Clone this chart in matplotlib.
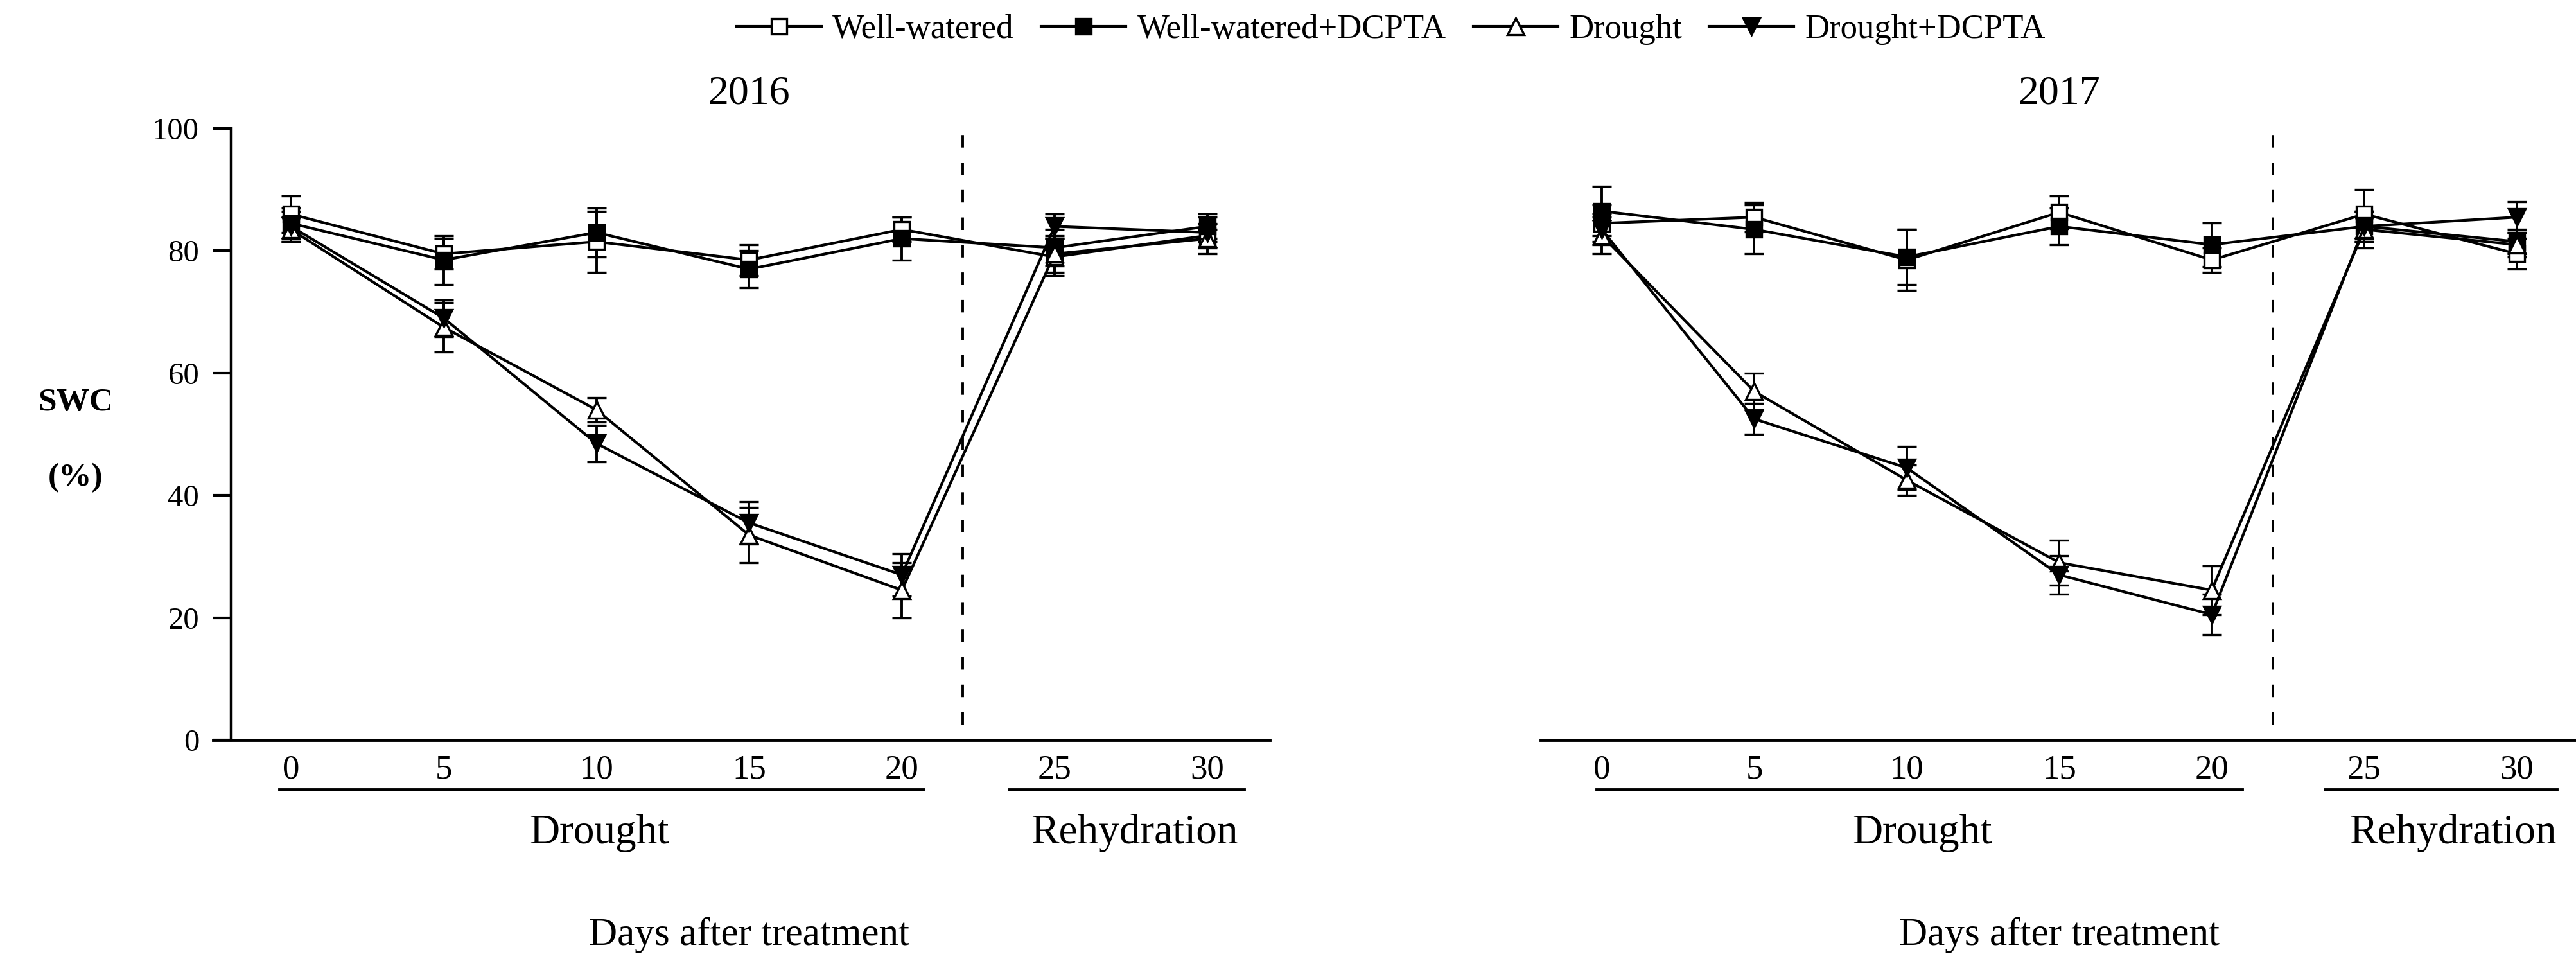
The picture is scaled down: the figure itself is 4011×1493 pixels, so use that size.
import matplotlib
matplotlib.use("Agg")
import matplotlib.pyplot as plt
from matplotlib.lines import Line2D
from matplotlib.transforms import blended_transform_factory

plt.rcParams['font.family'] = ['Liberation Serif', 'DejaVu Serif']

# Sampling days (days after treatment)
days = [0, 5, 10, 15, 20, 25, 30]

# Soil water content (%), 2016 season
ww_2016 = [86.0, 79.5, 81.5, 78.5, 83.5, 79.0, 82.5]
ww_2016_se = [3.0, 2.5, 5.0, 2.5, 2.0, 3.0, 3.0]
wwd_2016 = [84.5, 78.5, 83.0, 77.0, 82.0, 80.5, 84.0]
wwd_2016_se = [2.5, 4.0, 4.0, 3.0, 3.5, 3.0, 2.0]
d_2016 = [83.5, 67.5, 54.0, 33.5, 24.5, 79.5, 82.0]
d_2016_se = [2.0, 4.0, 2.0, 4.5, 4.5, 3.0, 1.5]
dd_2016 = [84.0, 69.0, 48.5, 35.5, 27.0, 84.0, 83.0]
dd_2016_se = [2.5, 3.0, 3.0, 3.5, 3.5, 2.0, 1.5]

# Soil water content (%), 2017 season
ww_2017 = [84.5, 85.5, 78.5, 86.3, 78.5, 86.0, 79.5]
ww_2017_se = [3.0, 2.4, 5.0, 2.7, 2.0, 4.0, 2.5]
wwd_2017 = [86.5, 83.5, 79.0, 84.0, 81.0, 84.0, 81.5]
wwd_2017_se = [4.0, 4.0, 4.5, 3.0, 3.6, 2.5, 2.0]
d_2017 = [82.5, 57.0, 42.5, 29.0, 24.5, 83.5, 81.0]
d_2017_se = [3.0, 3.0, 2.5, 3.7, 4.0, 3.0, 2.0]
dd_2017 = [83.5, 52.5, 44.5, 27.0, 20.5, 84.0, 85.5]
dd_2017_se = [2.5, 2.5, 3.5, 3.2, 3.3, 2.5, 2.5]

labels = ['Well-watered', 'Well-watered+DCPTA', 'Drought', 'Drought+DCPTA']
years = ['2016', '2017']
phase_labels = ['Drought', 'Rehydration']
y_ticks = [0, 20, 40, 60, 80, 100]

styles = [
    dict(marker='s', ms=17, mfc='white'),
    dict(marker='s', ms=17, mfc='black'),
    dict(marker='^', ms=19, mfc='white'),
    dict(marker='v', ms=19, mfc='black'),
]

fig = plt.figure(figsize=(40.11, 14.93), dpi=100)
ax1 = fig.add_axes([0.0828, 0.2284, 0.4101, 0.6376])
ax2 = fig.add_axes([0.5981, 0.2284, 0.4019, 0.6376])

panels = [
    (ax1, [(ww_2016, ww_2016_se), (wwd_2016, wwd_2016_se),
           (d_2016, d_2016_se), (dd_2016, dd_2016_se)], (-2.54, 32.04)),
    (ax2, [(ww_2017, ww_2017_se), (wwd_2017, wwd_2017_se),
           (d_2017, d_2017_se), (dd_2017, dd_2017_se)], (-2.0, 31.94)),
]

for i, (ax, series, xlim) in enumerate(panels):
    for (vals, se), st in zip(series, styles):
        ax.errorbar(days, vals, yerr=se, color='black', lw=3.0,
                    marker=st['marker'], ms=st['ms'], mfc=st['mfc'],
                    mec='black', mew=2.4, capsize=11, capthick=3.5,
                    elinewidth=2.8, clip_on=False, zorder=3)
    # separator between drought and rehydration phases
    ax.plot([22, 22], [2.5, 100], color='black', lw=2.8,
            ls=(0, (5, 6)), zorder=2)

    ax.set_xlim(*xlim)
    ax.set_ylim(0, 100)
    ax.set_xticks(days)
    ax.set_xticklabels([str(d) for d in days])
    ax.tick_params(axis='x', length=0, pad=16, labelsize=38)
    for s in ['top', 'right']:
        ax.spines[s].set_visible(False)
    ax.spines['bottom'].set_linewidth(3.5)

    trans = blended_transform_factory(ax.transData, fig.transFigure)
    ax.text(15, 0.9022, years[i], transform=trans, ha='center',
            va='center', fontsize=46)

    # phase underlines and labels
    if i == 0:
        spans = [(-0.38, 20.7), (23.5, 31.2)]
        centers = [10.1, 27.6]
    else:
        spans = [(-0.17, 21.0), (23.7, 31.3)]
        centers = [10.5, 27.9]
    for (x0, x1), xc, lab in zip(spans, centers, phase_labels):
        fig.add_artist(Line2D([x0, x1], [0.1765, 0.1765], transform=trans,
                              color='black', lw=3.5))
        ax.text(xc, 0.1313, lab, transform=trans, ha='center', va='center',
                fontsize=47)
    ax.text(15, 0.0248, 'Days after treatment', transform=trans,
            ha='center', va='center', fontsize=44)

# y axis only on the first panel
ax1.spines['left'].set_position(('data', -1.95))
ax1.spines['left'].set_bounds(0, 100)
ax1.spines['left'].set_linewidth(3.2)
ax1.set_yticks(y_ticks)
ax1.set_yticklabels([str(v) for v in y_ticks])
ax1.tick_params(axis='y', direction='out', length=20, width=3, pad=16,
                labelsize=35)
ax2.spines['left'].set_visible(False)
ax2.set_yticks([])

fig.text(118 / 4011, 1 - 627 / 1493, 'SWC', fontweight='bold',
         fontsize=37, ha='center', va='center')
fig.text(118 / 4011, 1 - 744 / 1493, '(%)', fontweight='bold',
         fontsize=37, ha='center', va='center')

handles = [Line2D([], [], color='black', lw=3.0, marker=st['marker'],
                  ms=st['ms'], mfc=st['mfc'], mec='black', mew=2.4)
           for st in styles]
fig.legend(handles, labels, loc='center', bbox_to_anchor=(0.54, 0.969),
           ncol=4, frameon=False, fontsize=38, handlelength=2.5,
           handletextpad=0.33, columnspacing=0.8, numpoints=1)

fig.savefig('out.png', dpi=100)
